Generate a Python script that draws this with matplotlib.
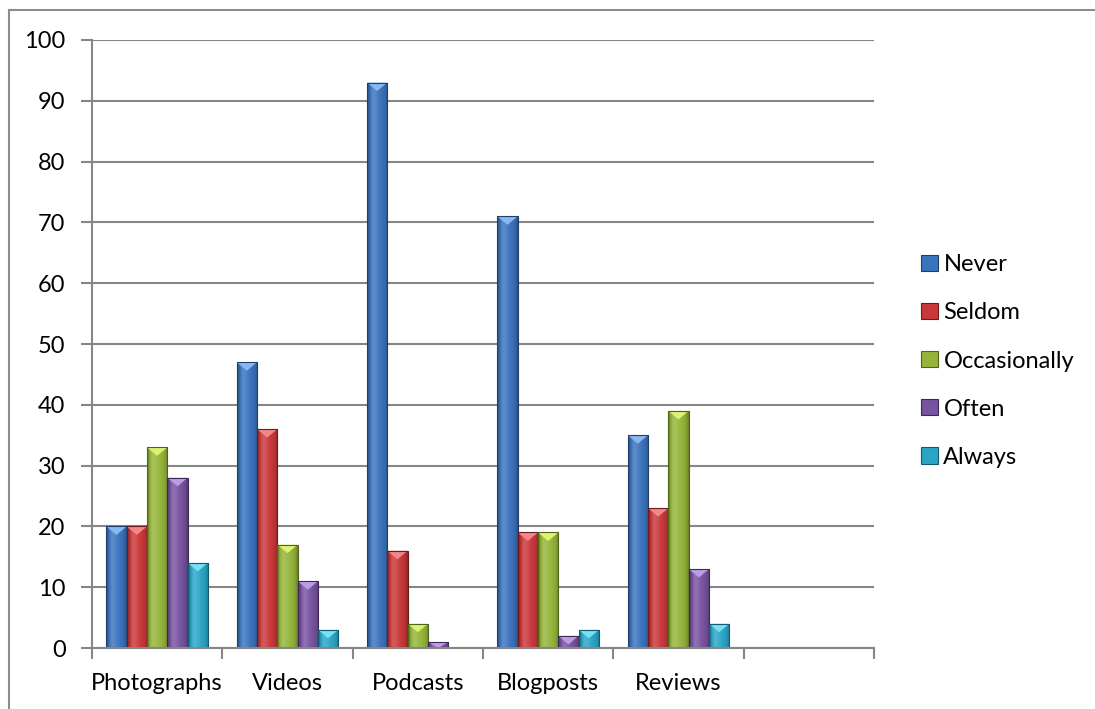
import numpy as np
import matplotlib.pyplot as plt
from matplotlib.patches import Polygon, Rectangle
from matplotlib.colors import to_rgb

plt.rcParams['font.family'] = ['Lato', 'DejaVu Sans']

categories = ['Photographs', 'Videos', 'Podcasts', 'Blogposts', 'Reviews', '']
series = ['Never', 'Seldom', 'Occasionally', 'Often', 'Always']
never = [20, 47, 93, 71, 35, 0]
seldom = [20, 36, 16, 19, 23, 0]
occasionally = [33, 17, 4, 19, 39, 0]
often = [28, 11, 1, 2, 13, 0]
always = [14, 3, 0, 3, 4, 0]
values = [never, seldom, occasionally, often, always]

colors = ['#3b73bd', '#c9383a', '#95b53a', '#7853a0', '#2ba5c6']
tops = ['#86b8f2', '#f28688', '#dcf270', '#bb9ce6', '#76e0f5']
edges = ['#1f3f6a', '#6e1a1c', '#4f6419', '#3e2858', '#14596d']


def shade(c, f):
    r = np.array(to_rgb(c))
    if f >= 0:
        return tuple(r + (1 - r) * f)
    return tuple(r * (1 + f))


def bevel_bar(ax, rect, color, top, edge):
    x0, w, h = rect.get_x(), rect.get_width(), rect.get_height()
    if h <= 0:
        return
    # horizontal shading across the bar: dark rims, light band left of centre
    prof = np.array([-0.35, -0.1, 0.12, 0.18, 0.12, 0.05, 0.0, -0.05, -0.12, -0.3])
    xs = np.linspace(0, 1, 60)
    f = np.interp(xs, np.linspace(0, 1, len(prof)), prof)
    img = np.array([[shade(color, v) for v in f]])
    im = ax.imshow(img, extent=(x0, x0 + w, 0, h), aspect='auto',
                   interpolation='bilinear', zorder=3)
    im.set_clip_path(rect)
    th = min(h, 1.4)
    tri = Polygon([(x0, h), (x0 + w, h), (x0 + w / 2, h - th)],
                  closed=True, facecolor=top, edgecolor='none', zorder=4)
    ax.add_patch(tri)
    ax.add_patch(Rectangle((x0, 0), w, h, facecolor='none', edgecolor=edge,
                           linewidth=0.8, zorder=5))


fig = plt.figure(figsize=(10.95, 7.09), dpi=100)
ax = fig.add_axes([0.0840, 0.0860, 0.7142, 0.8576])

# outer chart frame (only top and left edges fall inside the image)
fig.patches.append(Rectangle((8.5 / 1095, -0.1), 1.2, 1 - 10 / 709 + 0.1,
                             transform=fig.transFigure, fill=False,
                             edgecolor='#8c8c8c', linewidth=1.5))

x = np.arange(len(categories))
bw = 0.156
for i, vals in enumerate(values):
    bars = ax.bar(x + (i - 2) * bw, vals, width=bw, color=colors[i],
                  linewidth=0, zorder=2, label=series[i])
    for rect in bars:
        bevel_bar(ax, rect, colors[i], tops[i], edges[i])

ax.set_xlim(-0.5, len(categories) - 0.5)
ax.set_ylim(0, 100)
ax.set_yticks(np.arange(0, 101, 10))
ax.set_xticks(x)
ax.set_xticklabels(categories)
ax.set_xticks(np.arange(-0.5, len(categories)), minor=True)
ax.tick_params(axis='x', which='major', length=0, pad=18, labelsize=17)
ax.tick_params(axis='x', which='minor', length=8, width=1.5, color='#868686',
               direction='out')
ax.tick_params(axis='y', length=8, width=1.5, color='#868686', pad=11,
               labelsize=17)
ax.grid(axis='y', color='#868686', linewidth=1.5, zorder=0)
ax.set_axisbelow(True)
for s in ['top', 'right']:
    ax.spines[s].set_visible(False)
for s in ['left', 'bottom']:
    ax.spines[s].set_color('#868686')
    ax.spines[s].set_linewidth(1.5)
    ax.spines[s].set_zorder(6)

handles = [Rectangle((0, 0), 1, 1, facecolor=colors[i], edgecolor=edges[i],
                     linewidth=0.8) for i in range(len(series))]
fig.legend(handles, series, loc='center left',
           bbox_to_anchor=(912 / 1095, 1 - 361 / 709), frameon=False,
           fontsize=17, handlelength=0.68, handleheight=0.68,
           handletextpad=0.25, labelspacing=1.15, borderaxespad=0)

fig.savefig('out.png', dpi=100)
